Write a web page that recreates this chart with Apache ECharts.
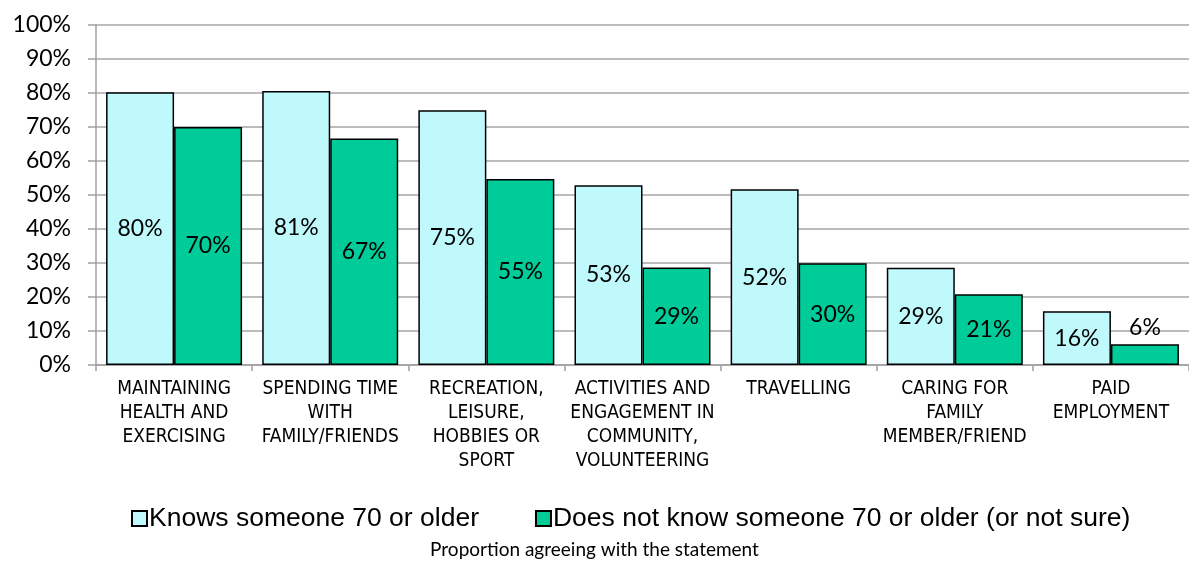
<!DOCTYPE html>
<html>
<head>
<meta charset="utf-8">
<script src="https://cdn.jsdelivr.net/npm/echarts@6/dist/echarts.min.js"></script>
<style>
  html, body { margin: 0; padding: 0; background: #fff; }
  #chart { width: 1189px; height: 565px; }
</style>
</head>
<body>
<div id="chart"></div>
<script>
// activities (x axis)
const categories = [
  'MAINTAINING\nHEALTH AND\nEXERCISING',
  'SPENDING TIME\nWITH\nFAMILY/FRIENDS',
  'RECREATION,\nLEISURE,\nHOBBIES OR\nSPORT',
  'ACTIVITIES AND\nENGAGEMENT IN\nCOMMUNITY,\nVOLUNTEERING',
  'TRAVELLING',
  'CARING FOR\nFAMILY\nMEMBER/FRIEND',
  'PAID\nEMPLOYMENT'
];
// % agreeing
const knowsOlder = [80.2, 80.6, 74.9, 52.9, 51.7, 28.6, 15.8];
const notKnowsOlder = [70.0, 66.6, 54.7, 28.7, 29.9, 20.8, 6.1];
const seriesNames = ['Knows someone 70 or older', 'Does not know someone 70 or older (or not sure)'];
const yTicks = [0, 10, 20, 30, 40, 50, 60, 70, 80, 90, 100];

const chart = echarts.init(document.getElementById('chart'));

// small bars get their label on top
function toData(arr) {
  return arr.map(v => v < 10 ? { value: v, label: { position: 'top' } } : v);
}

const labelStyle = {
  show: true,
  position: 'inside',
  fontFamily: 'Lato',
  fontSize: 23,
  color: '#000',
  formatter: p => Math.round(p.value) + '%'
};

chart.setOption({
  animation: false,
  textStyle: { fontFamily: 'Lato' },
  grid: { left: 96, top: 25, bottom: 200, width: 1102 },
  legend: {
    left: 126,
    top: 500,
    itemWidth: 15,
    itemHeight: 15,
    itemGap: 56,
    icon: 'rect',
    textStyle: { fontFamily: 'Liberation Sans', fontSize: 26.5, color: '#000', padding: [0, 0, 0, -3] },
    data: seriesNames
  },
  title: {
    text: 'Proportion agreeing with the statement',
    left: 'center',
    top: 535,
    textStyle: { fontFamily: 'Lato', fontSize: 19, fontWeight: 'normal', color: '#000' }
  },
  xAxis: {
    type: 'category',
    data: categories,
    axisLine: { lineStyle: { color: '#a0a0a0', width: 1.5 } },
    axisTick: { show: true, length: 6, lineStyle: { color: '#a0a0a0', width: 1.5 } },
    axisLabel: {
      interval: 0,
      margin: 12,
      fontFamily: 'Liberation Sans Narrow, DejaVu Sans Condensed, Liberation Sans',
      fontSize: 19,
      lineHeight: 24,
      color: '#000'
    }
  },
  yAxis: {
    type: 'value',
    min: yTicks[0],
    max: yTicks[yTicks.length - 1],
    interval: 10,
    axisLine: { show: true, lineStyle: { color: '#a0a0a0', width: 1.5 } },
    axisTick: { show: true, length: 8, lineStyle: { color: '#a0a0a0', width: 1.5 } },
    splitLine: { lineStyle: { color: '#a6a6a6', width: 1.5 } },
    axisLabel: {
      formatter: '{value}%',
      margin: 25,
      fontFamily: 'Lato',
      fontSize: 23,
      color: '#000'
    }
  },
  series: [
    {
      name: seriesNames[0],
      type: 'bar',
      data: toData(knowsOlder),
      barWidth: 68,
      barGap: '0%',
      itemStyle: { color: '#C0F9FC', borderColor: '#000', borderWidth: 1.5 },
      label: labelStyle
    },
    {
      name: seriesNames[1],
      type: 'bar',
      data: toData(notKnowsOlder),
      barWidth: 68,
      barGap: '0%',
      itemStyle: { color: '#00CC99', borderColor: '#000', borderWidth: 1.5 },
      label: labelStyle
    }
  ]
});
</script>
</body>
</html>
